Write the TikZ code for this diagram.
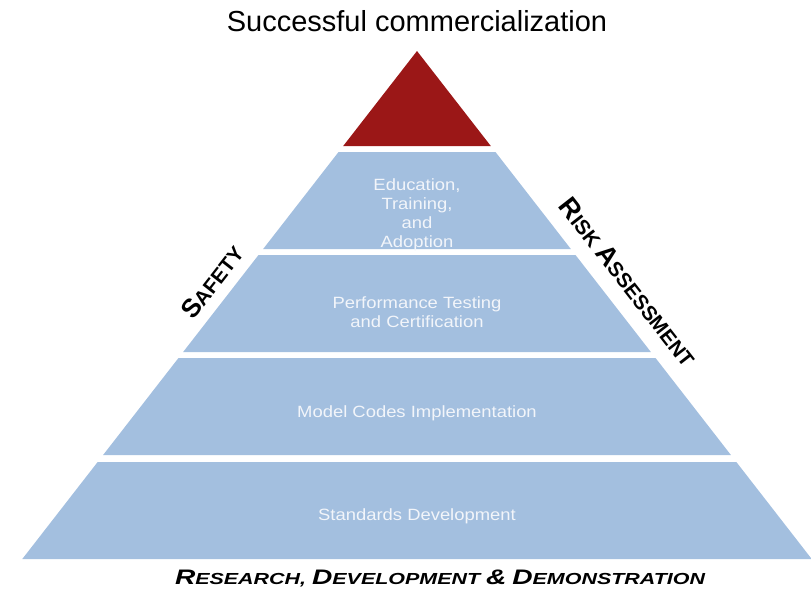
\documentclass[tikz,border=0pt]{standalone}
\usepackage{fontspec}
\setmainfont{Liberation Sans}
\usetikzlibrary{positioning}
\definecolor{bandblue}{HTML}{A3BFDF}
\definecolor{topred}{HTML}{9B1717}
\definecolor{bandtext}{HTML}{F2F5FA}
\newcommand{\capsc}[3][26]{{\fontsize{#1}{#1}\selectfont #2}#3}

\begin{document}
\begin{tikzpicture}[x=1pt, y=-1pt,
		band/.style = {fill=bandblue},
		lbl/.style = {text=bandtext, align=center, inner sep=0pt, xscale=1.13, font=\fontsize{16.3}{19}\selectfont},
		side/.style = {inner sep=0pt, font=\bfseries\fontsize{20.5}{20.5}\selectfont}
		]
		\useasboundingbox (0,0) rectangle (811,590);
		
		%Pyramid
		\fill[topred]	(417,51) -- (490.8,146) -- (343.2,146) -- cycle;
		\foreach \t/\b in {152/249, 255/352, 358/455, 462/559}
			\fill[band]	({417-0.777*(\t-51)},\t) -- ({417+0.777*(\t-51)},\t) -- ({417+0.777*(\b-51)},\b) -- ({417-0.777*(\b-51)},\b) -- cycle;
		
		%Nodes
		\node		(title)		at	(417, 21)	{\fontsize{29}{29}\selectfont Successful commercialization};
		\node[lbl]	(edu)		at	(417, 215)	{Education,\\Training,\\and\\Adoption};
		\node[lbl]	(perf)		at	(417, 312)	{Performance Testing\\and Certification};
		\node[lbl]	(codes)		at	(417, 413)	{Model Codes Implementation};
		\node[lbl]	(stds)		at	(417, 516)	{Standards Development};
		\node[side, rotate=52]	(safety)	at	(212, 282)	{\capsc{S}{AFETY}};
		\node[side, rotate=-52]	(risk)		at	(628, 282)	{\capsc[27]{R}{ISK} \capsc[27]{A}{SSESSMENT}};
		\node[side, xscale=1.34, font=\bfseries\itshape\fontsize{16}{16}\selectfont]	(rdd)	at	(440, 578)
			{\capsc[21]{R}{ESEARCH}, \capsc[21]{D}{EVELOPMENT} \capsc[21]{\&}{} \capsc[21]{D}{EMONSTRATION}};
	\end{tikzpicture}
\end{document}
